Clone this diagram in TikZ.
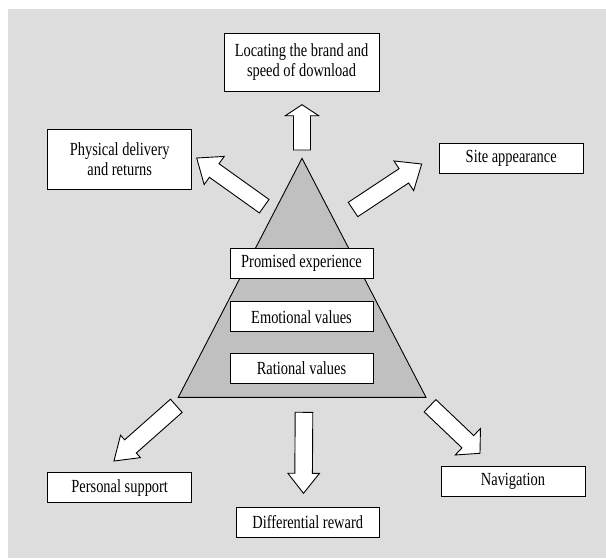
\documentclass[tikz,border=0pt]{standalone}
\usepackage{fontspec}
\setmainfont{Liberation Serif}[FakeStretch=0.78]
\usetikzlibrary{calc}

\definecolor{panel}{RGB}{221,221,221}
\definecolor{pyramid}{RGB}{192,192,192}

\tikzset{
  textbox/.style={draw=black, fill=white, line width=0.9pt, inner sep=0pt,
    align=center, font=\fontsize{18.5}{19.5}\selectfont,
    minimum width=144pt, minimum height=30pt},
  blockarrow/.style={draw=black, fill=white, line width=0.9pt, line join=miter},
}

% Block arrow: #1 tail centre, #2 tip, #3 half shaft width,
% #4 half head width, #5 head length
\newcommand\blockarrow[5]{%
  \coordinate (ba-base) at ($(#2)!#5!(#1)$);
  \draw[blockarrow]
    ($(#1)!#3!90:(#2)$) -- ($(ba-base)!#3!90:(#2)$) --
    ($(ba-base)!#4!90:(#2)$) -- (#2) --
    ($(ba-base)!#4!-90:(#2)$) -- ($(ba-base)!#3!-90:(#2)$) --
    ($(#1)!#3!-90:(#2)$) -- cycle;
}

\begin{document}
\begin{tikzpicture}[x=1pt, y=-1pt]
  \useasboundingbox (0,0) rectangle (606,558);
  \fill[panel] (8,9) rectangle (606,558);

  % pyramid
  \coordinate (pl) at (178.3,397.3);
  \coordinate (pr) at (426,397.3);
  \coordinate (pt) at (302,158.3);
  \filldraw[fill=pyramid, draw=black, line width=0.9pt] (pl) -- (pt) -- (pr) -- cycle;

  % boxes inside the pyramid
  \node[textbox, minimum width=143pt] (promised) at (301.5,263.5) {Promised experience};
  \node[textbox, minimum width=143pt] (emotional) at (301.5,316.8) {Emotional values};
  \node[textbox, minimum width=143pt] (rational) at (301.5,368.3) {Rational values};

  % surrounding boxes
  \node[textbox, minimum width=155pt, minimum height=58pt] (locating) at (301.5,62)
    {Locating the brand and\\speed of download};
  \node[textbox, minimum height=60pt] (physical) at (119.7,159)
    {Physical delivery\\and returns};
  \node[textbox] (site) at (511.2,158.3) {Site appearance};
  \node[textbox] (personal) at (119.7,487.7) {Personal support};
  \node[textbox, minimum width=143pt] (differential) at (307.7,522.5) {Differential reward};
  \node[textbox] (navigation) at (513,481) {Navigation};

  % arrow ends
  \coordinate (upT) at (302,150);      \coordinate (upH) at (302,104.7);
  \coordinate (ulT) at (264.2,206.2);  \coordinate (ulH) at (196.7,158);
  \coordinate (urT) at (353,209.5);    \coordinate (urH) at (421.7,164);
  \coordinate (llT) at (176.3,405.8);  \coordinate (llH) at (114,461);
  \coordinate (dnT) at (304,412.3);    \coordinate (dnH) at (303.5,493.3);
  \coordinate (lrT) at (430,405.7);    \coordinate (lrH) at (480,453.3);

  \blockarrow{upT}{upH}{8.5pt}{16.7pt}{11pt}
  \blockarrow{ulT}{ulH}{8.3pt}{17.3pt}{21.5pt}
  \blockarrow{urT}{urH}{8.6pt}{17.8pt}{21.4pt}
  \blockarrow{llT}{llH}{8.8pt}{15pt}{22pt}
  \blockarrow{dnT}{dnH}{8.8pt}{15.8pt}{20pt}
  \blockarrow{lrT}{lrH}{8.5pt}{18.3pt}{16.8pt}
\end{tikzpicture}
\end{document}
